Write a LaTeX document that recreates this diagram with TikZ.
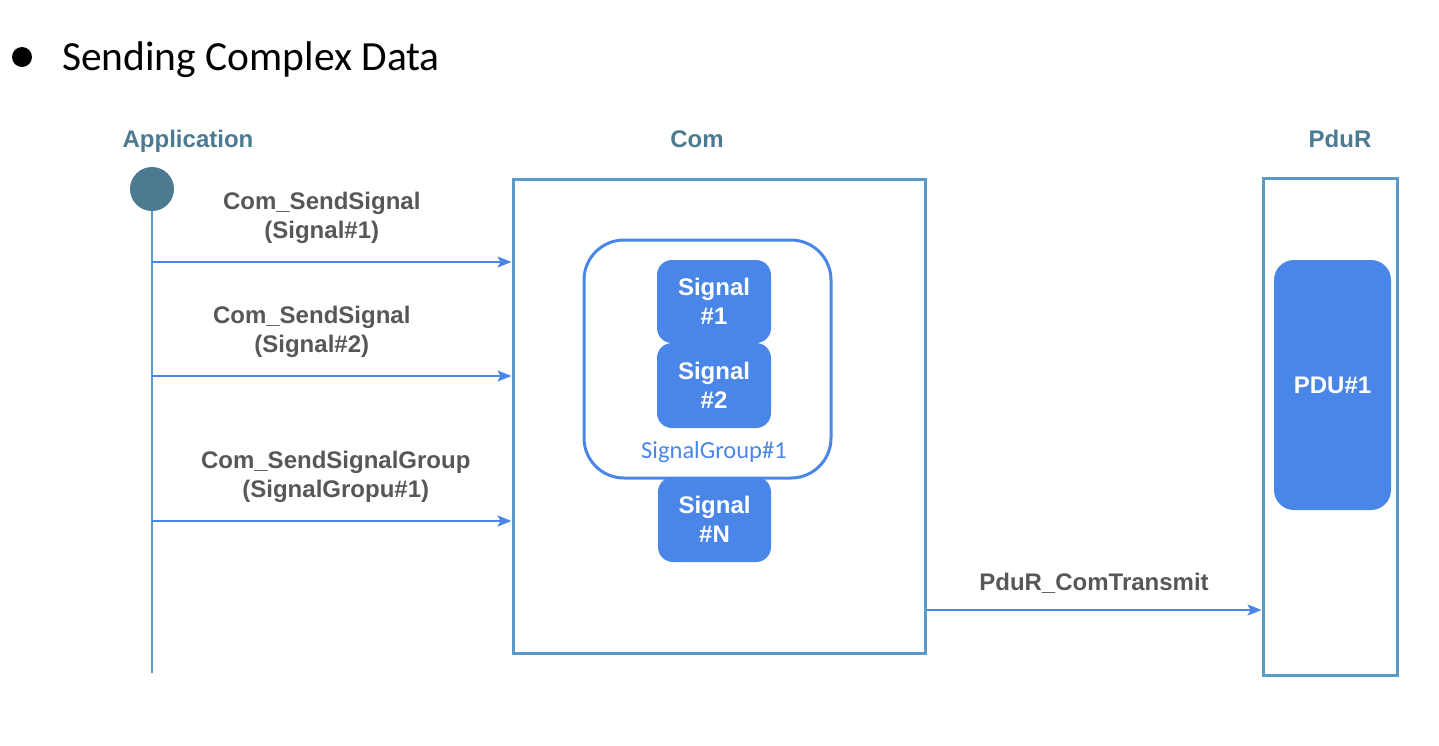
\documentclass[tikz,border=0pt]{standalone}
\usepackage{fontspec}
\setmainfont{Liberation Sans}
\newfontfamily\carlito{Carlito}
\usetikzlibrary{positioning, shapes, arrows, arrows.meta}
\definecolor{headteal}{HTML}{4C7B91}
\definecolor{labelgray}{HTML}{575757}
\definecolor{boxblue}{HTML}{5A9AC6}
\definecolor{sigblue}{HTML}{4A86E8}
\definecolor{lineblue}{HTML}{5B9BD5}
\newcommand{\lblfont}{\fontsize{24}{29}\selectfont\bfseries}

\begin{document}
\begin{tikzpicture}[-,x=1pt,y=-1pt,
    msg/.style={draw=sigblue, line width=2pt, -{Stealth[length=14pt,width=11pt,inset=3pt]}},
    head/.style={text=headteal, font=\lblfont, anchor=base},
    call/.style={above, align=center, text=labelgray, font=\lblfont},
    sig/.style={rectangle, rounded corners=15pt, fill=sigblue, text=white, align=center, inner sep=0pt, font=\lblfont},
    layer/.style={rectangle, draw=boxblue, line width=3pt, inner sep=0pt}]
        \useasboundingbox (0,0) rectangle (1439,745);

        % title line
        \node at (22,57) [circle, fill=black, minimum size=20pt, inner sep=0pt] (bullet) {};
        \node at (62,70) [anchor=base west, inner sep=0pt, font=\carlito\fontsize{41.5}{48}\selectfont] (title) {Sending Complex Data};

        % headers
        \node at (188,147) [head] (app_head) {Application};
        \node at (697,147) [head] (com_head) {Com};
        \node at (1340,147) [head] (pdur_head) {PduR};

        % application lifeline
        \node at (152,189) [circle, fill=headteal, minimum size=44pt, inner sep=0pt] (app) {};
        \coordinate (app_s1) at (152,262);
        \coordinate (app_s2) at (152,376);
        \coordinate (app_s3) at (152,521);
        \coordinate (app_end) at (152,673);
        \draw[lineblue, line width=2pt] (app) -- (app_end);

        % Com module
        \node at (719,416) [layer, minimum width=412pt, minimum height=474pt] (com) {};
        \node at (707.5,359) [rectangle, rounded corners=40pt, draw=sigblue, line width=3pt, minimum width=247pt, minimum height=238pt] (group_1) {};
        \node at (714,301.5) [sig, minimum width=114pt, minimum height=83pt] (sig_1) {Signal\\\#1};
        \node at (714,385.5) [sig, minimum width=114pt, minimum height=85pt] (sig_2) {Signal\\\#2};
        \node at (714,452) [text=sigblue, font=\carlito\fontsize{24.5}{28}\selectfont] (group_1_lbl) {SignalGroup\#1};
        \node at (714.5,519.5) [sig, minimum width=113pt, minimum height=85pt] (sig_n) {Signal\\\#N};

        % PduR module
        \node at (1330,426.5) [layer, minimum width=134pt, minimum height=497pt] (pdur) {};
        \node at (1332.5,385) [sig, rounded corners=20pt, minimum width=117pt, minimum height=250pt] (pdu_1) {PDU\#1};
        \coordinate (tx_y) at (0,610);

        \draw[msg] (app_s1) -- node[call, xshift=-10pt, yshift=14pt]{Com\_SendSignal\\(Signal\#1)} (com.west |- app_s1);
        \draw[msg] (app_s2) -- node[call, xshift=-20pt, yshift=14pt]{Com\_SendSignal\\(Signal\#2)} (com.west |- app_s2);
        \draw[msg] (app_s3) -- node[call, xshift=4pt, yshift=14pt]{Com\_SendSignalGroup\\(SignalGropu\#1)} (com.west |- app_s3);
        \draw[msg] (com.east |- tx_y) -- node[call, yshift=12pt]{PduR\_ComTransmit} (pdur.west |- tx_y);
    \end{tikzpicture}
\end{document}
